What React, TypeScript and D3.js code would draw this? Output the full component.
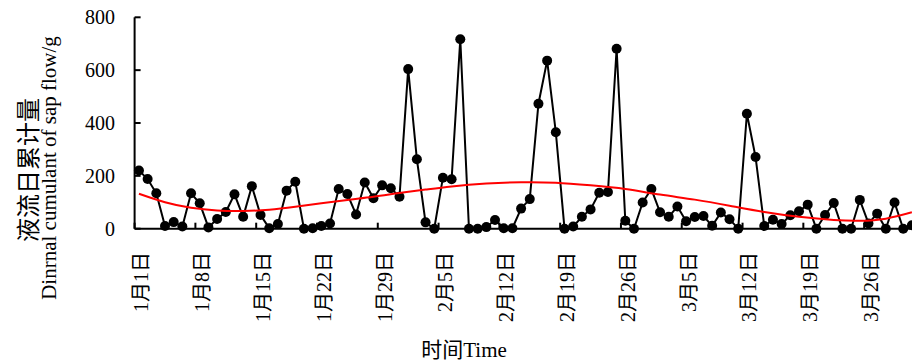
import React from "react";
import * as d3 from "d3";

// Daily sap flow values (g), Jan 1 – Mar 31 (90 days)
const flowValues: number[] = [
  220, 188, 134, 10, 25, 8, 134, 96, 5, 37,
  63, 130, 45, 161, 52, 2, 18, 144, 178, 0,
  2, 10, 20, 150, 131, 54, 175, 115, 164, 153,
  121, 604, 263, 24, 0, 193, 187, 717, 0, 0,
  6, 33, 2, 2, 76, 112, 473, 636, 365, 0,
  8, 45, 73, 136, 139, 681, 30, 0, 99, 150,
  62, 45, 84, 28, 44, 48, 11, 61, 36, 0,
  435, 271, 10, 34, 18, 51, 66, 91, 0, 52,
  97, 0, 0, 109, 20, 57, 0, 99, 0, 13,
];

// Trend line (red): day index and value
const trendDays: number[] = [0, 3, 6, 9, 12, 15, 18, 21, 24, 27, 30, 33, 36, 40, 44, 48, 52, 56, 60, 64, 68, 72, 76, 80, 83, 86, 89];
const trendValues: number[] = [132, 100, 79, 69, 67, 72, 83, 96, 109, 121, 135, 148, 160, 171, 176, 174, 164, 150, 129, 110, 87, 63, 45, 33, 30, 38, 62];

const tickLabels: string[] = [
  "1月1日", "1月8日", "1月15日", "1月22日", "1月29日", "2月5日", "2月12日",
  "2月19日", "2月26日", "3月5日", "3月12日", "3月19日", "3月26日",
];
const yTicks: number[] = [0, 200, 400, 600, 800];

const W = 912;
const H = 361;
const FONT = "'Liberation Serif', 'Times New Roman', 'Noto Sans CJK SC', serif";

export default function App() {
  const n = flowValues.length;
  const left = 134.6;
  const step = 8.685;
  const x = d3.scaleLinear().domain([-0.5, n - 0.5]).range([left, left + n * step]);
  const y = d3.scaleLinear().domain([0, 800]).range([228.7, 17.3]);

  const line = d3
    .line<number>()
    .x((_, i) => x(i))
    .y((d) => y(d));

  const trend = d3
    .line<number>()
    .x((_, i) => x(trendDays[i]))
    .y((d) => y(d))
    .curve(d3.curveNatural);

  const tickBoundaries = d3.range(0, n + 1, 7);

  return (
    <svg
      width={W}
      height={H}
      style={{ position: "absolute", left: 0, top: 0, background: "#fff" }}
      fontFamily={FONT}
    >
      <rect x={0} y={0} width={W} height={H} fill="#fff" />
      {/* axes */}
      <line x1={left} x2={left} y1={y(800)} y2={y(0)} stroke="#000" strokeWidth={2} />
      <line x1={left} x2={x(n - 0.5)} y1={y(0)} y2={y(0)} stroke="#000" strokeWidth={2} />
      {yTicks.map((t) => (
        <g key={"y" + t}>
          <line x1={left} x2={left + 6} y1={y(t)} y2={y(t)} stroke="#000" strokeWidth={2} />
          <text x={115} y={y(t)} textAnchor="end" dominantBaseline="central" fontSize={20}>
            {t}
          </text>
        </g>
      ))}
      {tickBoundaries.map((b) => (
        <line key={"xt" + b} x1={x(b - 0.5)} x2={x(b - 0.5)} y1={y(0)} y2={y(0) - 6} stroke="#000" strokeWidth={2} />
      ))}
      {tickLabels.map((lab, k) => (
        <text
          key={lab}
          transform={`translate(${x(k * 7) + 2.5},252) rotate(-90)`}
          textAnchor="end"
          dominantBaseline="central"
          fontSize={20}
        >
          {lab}
        </text>
      ))}
      {/* data line */}
      <path d={line(flowValues) || ""} fill="none" stroke="#000" strokeWidth={2} />
      {flowValues.map((v, i) => (
        <circle key={"c" + i} cx={x(i)} cy={y(v)} r={5} fill="#000" />
      ))}
      {/* trend */}
      <path d={trend(trendValues) || ""} fill="none" stroke="#ff0000" strokeWidth={2} />
      {/* titles */}
      <text transform="translate(29,170) rotate(-90)" textAnchor="middle" dominantBaseline="central" fontSize={24}>
        液流日累计量
      </text>
      <text transform="translate(49,168) rotate(-90)" textAnchor="middle" dominantBaseline="central" fontSize={21}>
        Dinrnal cumulant of sap flow/g
      </text>
      <text x={464} y={350} textAnchor="middle" dominantBaseline="central" fontSize={21}>
        时间Time
      </text>
    </svg>
  );
}
